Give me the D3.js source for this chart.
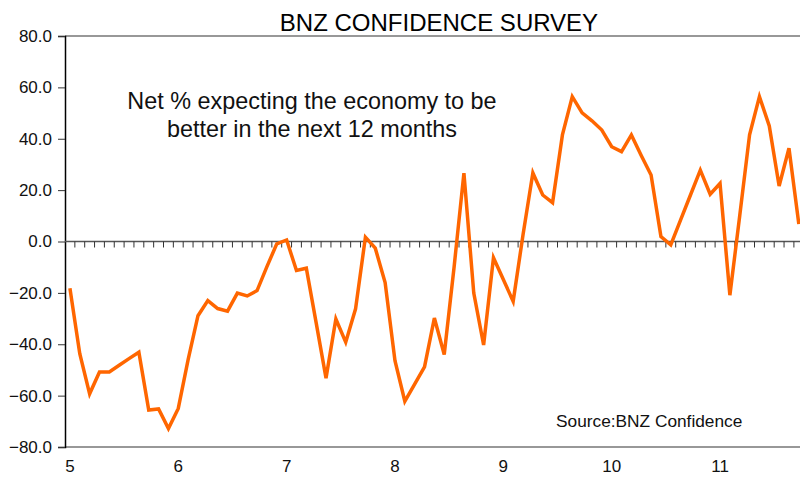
<!DOCTYPE html>
<html>
<head>
<meta charset="utf-8">
<script src="https://cdn.jsdelivr.net/npm/d3@7"></script>
<style>
  body { margin: 0; background: #fff; }
  svg { display: block; font-family: Arial, "Liberation Sans", sans-serif; }
</style>
</head>
<body>
<script>
// monthly readings (11 per year, no January survey)
const values = [
  -18.2, -43.7, -59.3, -50.8, -50.8, -48.2, -45.6, -43.1, -65.6, -65.2, -72.8,
  -65.0, -46.0, -28.9, -23.0, -26.1, -27.1, -20.1, -21.2, -19.1, -9.8, -0.9,
  0.6, -11.3, -10.4, -31.7, -53.2, -30.2, -39.2, -26.2, 1.7, -2.6, -16.0,
  -46.4, -62.2, -55.5, -48.8, -29.8, -44.0, -10.0, 26.6, -20.1, -40.3, -6.3,
  -14.8, -23.3, 2.6, 26.7, 18.1, 15.1, 41.5, 56.4, 50.1, 47.0, 43.4,
  36.9, 35.0, 41.5, 33.5, 25.9, 1.9, -1.3, 8.4, 18.1, 27.8, 18.4,
  22.6, -20.9, 10.0, 41.5, 56.4, 45.0, 21.6, 36.3, 6.8
];
const yearLabels = ["5", "6", "7", "8", "9", "10", "11"];
const perYear = 11;
const yTicks = [80, 60, 40, 20, 0, -20, -40, -60, -80];

const svgwidth = 800, svgheight = 477;
const margin = { left: 65, top: 36, bottom: 447 };
const step = 9.85;

const svg = d3.select("body").append("svg")
    .attr("width", svgwidth)
    .attr("height", svgheight);

const X = d3.scaleBand()
    .domain(d3.range(values.length))
    .range([margin.left, margin.left + values.length * step])
    .padding(0);
const Y = d3.scaleLinear()
    .domain([-80, 80])
    .range([margin.bottom, margin.top]);

const cx = i => X(i) + X.bandwidth() / 2;

// TITLE
svg.append("text")
    .attr("x", 439).attr("y", 31)
    .attr("text-anchor", "middle")
    .style("font-size", "24px")
    .attr("fill", "#000")
    .text("BNZ CONFIDENCE SURVEY");

// TOP AND BOTTOM FRAME
svg.append("line")
    .attr("x1", margin.left).attr("x2", svgwidth)
    .attr("y1", Y(80)).attr("y2", Y(80))
    .attr("stroke", "#333").attr("stroke-width", 1.2);
svg.append("line")
    .attr("x1", margin.left).attr("x2", svgwidth)
    .attr("y1", Y(-80)).attr("y2", Y(-80))
    .attr("stroke", "#333").attr("stroke-width", 1.2);

// Y AXIS
const yaxis = svg.append("g")
    .attr("transform", `translate(${margin.left},0)`)
    .call(d3.axisLeft(Y).tickValues(yTicks).tickSize(7).tickPadding(6)
        .tickFormat(d3.format(".1f")));
yaxis.select(".domain").attr("stroke", "#000").attr("stroke-width", 1.5);
yaxis.selectAll(".tick line").attr("stroke", "#333");
yaxis.selectAll(".tick text")
    .style("font-size", "17px")
    .style("font-family", "Arial, 'Liberation Sans', sans-serif")
    .attr("fill", "#111");

// CATEGORY AXIS ON THE ZERO LINE
svg.append("line")
    .attr("x1", margin.left).attr("x2", svgwidth)
    .attr("y1", Y(0)).attr("y2", Y(0))
    .attr("stroke", "#555").attr("stroke-width", 1.5);
svg.append("g").selectAll("line")
    .data(d3.range(1, values.length + 1))
    .enter().append("line")
    .attr("x1", i => X(i - 1) + X.bandwidth()).attr("x2", i => X(i - 1) + X.bandwidth())
    .attr("y1", Y(0)).attr("y2", Y(0) + 6)
    .attr("stroke", "#333").attr("stroke-width", 1);

// YEAR LABELS
svg.append("g").selectAll("text")
    .data(yearLabels)
    .enter().append("text")
    .attr("x", (d, i) => cx(i * perYear))
    .attr("y", 472)
    .attr("text-anchor", "middle")
    .style("font-size", "17px")
    .attr("fill", "#111")
    .text(d => d);

// ANNOTATIONS
const note = svg.append("text")
    .attr("text-anchor", "middle")
    .style("font-size", "23.4px")
    .attr("fill", "#111");
note.append("tspan").attr("x", 312).attr("y", 109).text("Net % expecting the economy to be");
note.append("tspan").attr("x", 312).attr("y", 137).text("better in the next 12 months");

svg.append("text")
    .attr("x", 556).attr("y", 427)
    .style("font-size", "17.3px")
    .attr("fill", "#111")
    .text("Source:BNZ Confidence");

// LINE
const line = d3.line()
    .x((d, i) => cx(i))
    .y(d => Y(d));
svg.append("path")
    .datum(values)
    .attr("d", line)
    .attr("fill", "none")
    .attr("stroke", "#FF6600")
    .attr("stroke-width", 3.5)
    .attr("stroke-linejoin", "miter");
</script>
</body>
</html>
